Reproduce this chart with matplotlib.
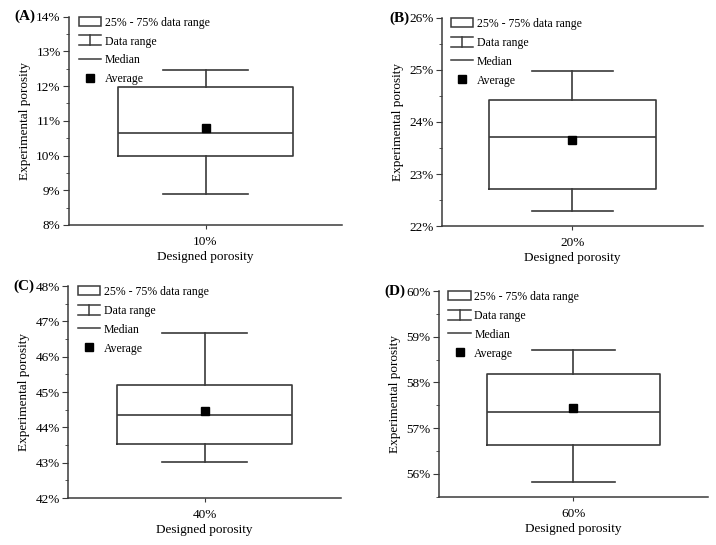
import matplotlib
matplotlib.use("Agg")
from matplotlib import pyplot as plt
from matplotlib.lines import Line2D
from matplotlib.patches import Rectangle
from matplotlib.legend_handler import HandlerBase
from matplotlib.ticker import MultipleLocator, FuncFormatter

plt.rcParams['font.family'] = ['Liberation Serif', 'DejaVu Serif']

# data (porosity in %)
panels = ['(A)', '(B)', '(C)', '(D)']
designed = ['10%', '20%', '40%', '60%']
q1 = [9.99, 22.72, 43.54, 56.64]
q3 = [11.96, 24.42, 45.19, 58.18]
medians = [10.65, 23.72, 44.34, 57.35]
means = [10.79, 23.65, 44.46, 57.44]
whis_lo = [8.89, 22.29, 43.03, 55.81]
whis_hi = [12.45, 24.99, 46.68, 58.72]
ylims = [(8, 14), (22, 26), (42, 48), (55.5, 60)]

line_col = '#3a3a3a'

# axes rectangles in figure fraction
rects = [
    [0.0964, 0.5872, 0.3813, 0.3822],
    [0.6170, 0.5853, 0.3650, 0.3817],
    [0.0950, 0.0862, 0.3813, 0.3890],
    [0.6131, 0.0887, 0.3757, 0.3773],
]


class HandlerRange(HandlerBase):
    # I shaped symbol: two caps and a stem
    def create_artists(self, legend, orig, xdescent, ydescent, width, height, fontsize, trans):
        x0 = -xdescent
        x1 = x0 + width
        y0 = -ydescent - 0.05 * height
        y1 = -ydescent + 1.05 * height
        xm = (x0 + x1) / 2
        kw = dict(color=line_col, lw=1.1, transform=trans)
        return [Line2D([x0, x1], [y0, y0], **kw),
                Line2D([x0, x1], [y1, y1], **kw),
                Line2D([xm, xm], [y0, y1], **kw)]


fig = plt.figure(figsize=(7.16, 5.45), dpi=100)

for i in range(4):
    ax = fig.add_axes(rects[i])
    stats = [{
        'med': medians[i], 'q1': q1[i], 'q3': q3[i],
        'whislo': whis_lo[i], 'whishi': whis_hi[i], 'mean': means[i],
        'label': designed[i],
    }]
    ax.bxp(stats, positions=[1], widths=1.28, capwidths=[0.62],
           showmeans=True, showfliers=False,
           boxprops=dict(color=line_col, lw=1.2),
           whiskerprops=dict(color=line_col, lw=1.2),
           capprops=dict(color=line_col, lw=1.2),
           medianprops=dict(color=line_col, lw=1.2),
           meanprops=dict(marker='s', markerfacecolor='black',
                          markeredgecolor='black', markersize=5.5))
    ax.set_xlim(0, 2)
    ax.set_ylim(*ylims[i])
    ax.yaxis.set_major_locator(MultipleLocator(1))
    ax.yaxis.set_minor_locator(MultipleLocator(0.5))
    ax.yaxis.set_major_formatter(FuncFormatter(lambda v, p: '%d%%' % round(v)))
    ax.spines['top'].set_visible(False)
    ax.spines['right'].set_visible(False)
    for s in ['left', 'bottom']:
        ax.spines[s].set_color(line_col)
        ax.spines[s].set_linewidth(1.1)
    ax.tick_params(axis='y', which='major', direction='out', length=4,
                   color=line_col, labelsize=9.5, pad=2)
    ax.tick_params(axis='y', which='minor', direction='out', length=2.5,
                   color=line_col)
    ax.tick_params(axis='x', direction='out', length=3, color=line_col,
                   labelsize=9.5, pad=5)
    ax.set_xlabel('Designed porosity', fontsize=9.5, labelpad=2)
    ax.set_ylabel('Experimental porosity', fontsize=9.5, labelpad=4)

    # legend
    h_box = Rectangle((0, 0), 1, 1, facecolor='white', edgecolor=line_col, lw=1.1)
    h_range = Line2D([], [], color=line_col)
    h_med = Line2D([], [], color=line_col, lw=1.1)
    h_avg = Line2D([], [], marker='s', color='black', linestyle='none', markersize=6)
    ax.legend([h_box, h_range, h_med, h_avg],
              ['25% - 75% data range', 'Data range', 'Median', 'Average'],
              handler_map={h_range: HandlerRange()},
              loc='upper left', bbox_to_anchor=(0.035, 1.0), frameon=False,
              fontsize=8.5, handlelength=1.9, handleheight=0.8,
              handletextpad=0.3, labelspacing=0.58, borderaxespad=0,
              borderpad=0)

    # panel letter
    ax.text(-0.125, 1.0, panels[i], transform=ax.transAxes, fontsize=11,
            fontweight='bold', ha='right', va='center')

fig.savefig('out.png', dpi=100)
